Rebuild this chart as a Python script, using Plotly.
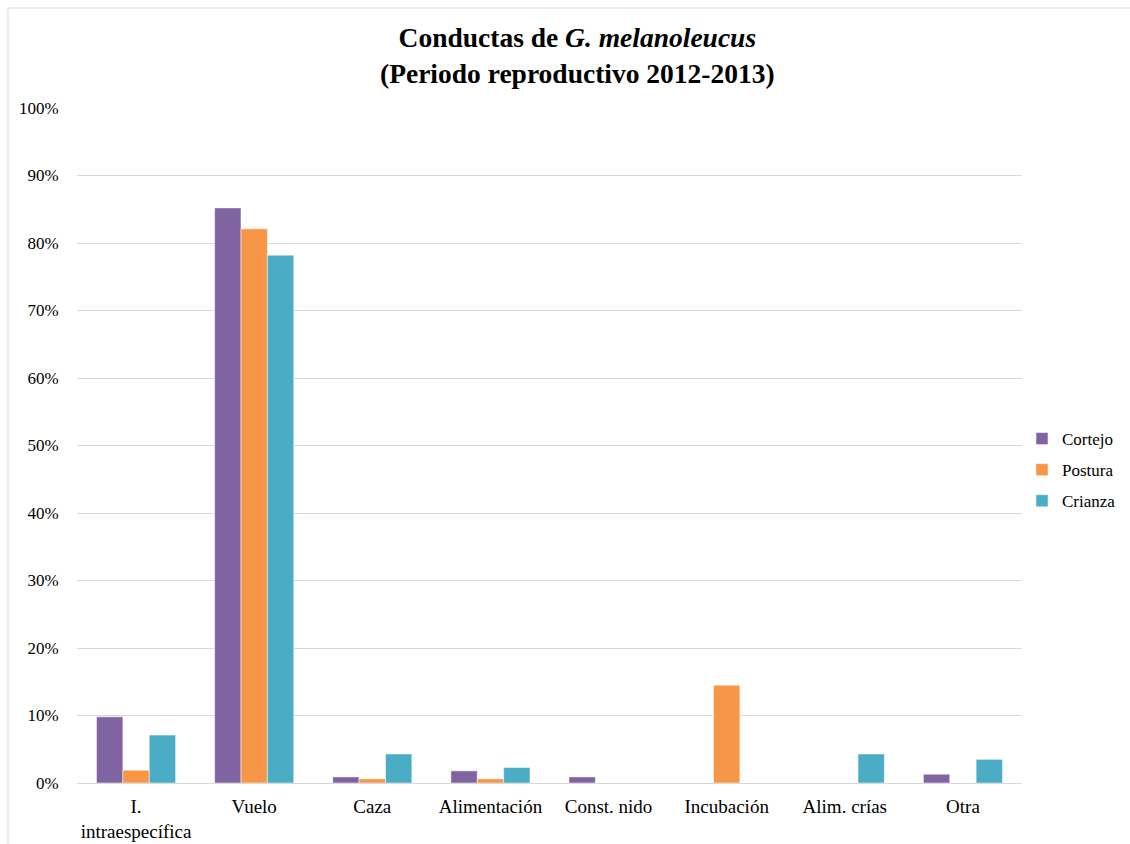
import plotly.graph_objects as go

categories = ["I.<br>intraespecífica", "Vuelo", "Caza", "Alimentación", "Const. nido",
              "Incubación", "Alim. crías", "Otra"]
cortejo = [9.8, 85.2, 0.9, 1.8, 0.9, 0, 0, 1.3]
postura = [1.9, 82.1, 0.6, 0.6, 0, 14.5, 0, 0]
crianza = [7.1, 78.2, 4.3, 2.3, 0, 0, 4.3, 3.5]
series_names = ["Cortejo", "Postura", "Crianza"]
colors = ["#8064A2", "#F79646", "#4BACC6"]
y_ticks = list(range(0, 101, 10))
y_labels = [f"{v}%" for v in y_ticks]

W, H = 1130, 844
ml, mr, mt, mb = 77, 108, 108, 61
pw = W - ml - mr
ph = H - mt - mb

fig = go.Figure()
for name, vals, col in zip(series_names, [cortejo, postura, crianza], colors):
    fig.add_trace(go.Bar(x=categories, y=vals, name=name, legendgroup=name,
                         marker=dict(color=col, line=dict(color="rgba(255,255,255,0.5)", width=1))))

fig.add_shape(type="rect", xref="paper", yref="paper",
              x0=(8 - ml) / pw, x1=(W + 5 - ml) / pw,
              y0=(H - mb - (H + 5)) / ph, y1=(H - mb - 8) / ph,
              line=dict(color="#D9D9D9", width=1), fillcolor="rgba(0,0,0,0)", layer="below")

fig.add_annotation(
    text="<b>Conductas de <i>G. melanoleucus</i><br>(Periodo reproductivo 2012-2013)</b>",
    xref="paper", yref="paper", x=(577 - ml) / pw, y=(H - mb - 55) / ph,
    xanchor="center", yanchor="middle", showarrow=False,
    font=dict(size=27.5, family="Liberation Serif", color="#000000"))

fig.update_layout(
    width=W, height=H,
    margin=dict(l=ml, r=mr, t=mt, b=mb, autoexpand=False),
    paper_bgcolor="white", plot_bgcolor="white",
    font=dict(family="Liberation Serif", size=17, color="#000000"),
    barmode="group", bargap=0.33, bargroupgap=0,
    xaxis=dict(showline=True, linecolor="#D9D9D9", linewidth=1, tickfont=dict(size=19),
               ticks="outside", ticklen=6, tickcolor="rgba(0,0,0,0)", automargin=False),
    yaxis=dict(range=[0, 100], tickvals=y_ticks, ticktext=y_labels, showgrid=True,
               gridcolor="#D9D9D9", gridwidth=1, zeroline=False, tickfont=dict(size=17),
               ticks="outside", ticklen=14, tickcolor="rgba(0,0,0,0)", automargin=False),
    legend=dict(x=1.0, xanchor="left", y=(H - mb - 470) / ph, yanchor="middle",
                font=dict(size=17), itemwidth=30, tracegroupgap=6,
                bgcolor="rgba(0,0,0,0)"),
    showlegend=True,
)
fig.write_html("out.html")
